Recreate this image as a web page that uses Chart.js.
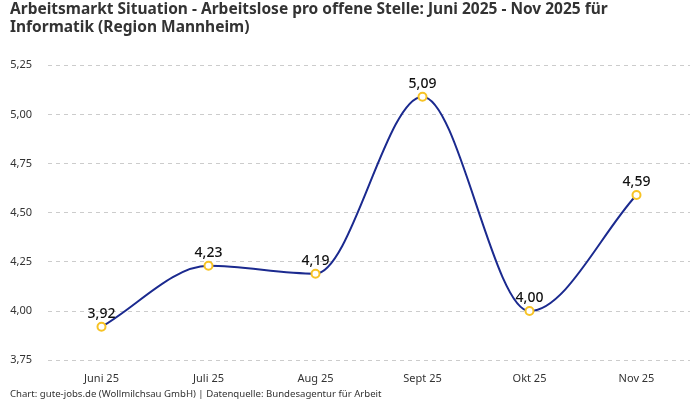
<!DOCTYPE html>
<html>
<head>
<meta charset="utf-8">
<script src="https://cdn.jsdelivr.net/npm/chart.js@4"></script>
<style>
  html, body { margin: 0; padding: 0; background: #fff; }
  #wrap { width: 700px; height: 400px; }
</style>
</head>
<body>
<div id="wrap"><canvas id="myChart"></canvas></div>
<script>
const months = ['Juni 25', 'Juli 25', 'Aug 25', 'Sept 25', 'Okt 25', 'Nov 25'];
const ratio = [3.92, 4.23, 4.19, 5.09, 4.00, 4.59];
const yTicks = [3.75, 4.00, 4.25, 4.50, 4.75, 5.00, 5.25];

const FONT = '"Noto Sans", sans-serif';
const fmt = v => v.toFixed(2).replace('.', ',');

// simple value labels above each point
const valueLabels = {
    id: 'valueLabels',
    afterDatasetsDraw(chart) {
        const ctx = chart.ctx;
        const meta = chart.getDatasetMeta(0);
        ctx.save();
        ctx.font = '500 14px ' + FONT;
        ctx.fillStyle = '#111';
        ctx.textAlign = 'center';
        ctx.textBaseline = 'bottom';
        meta.data.forEach((pt, i) => {
            ctx.fillText(fmt(ratio[i]), pt.x, pt.y - 6);
        });
        ctx.restore();
    }
};

const ctx = document.getElementById('myChart').getContext('2d');
new Chart(ctx, {
    type: 'line',
    data: {
        labels: months,
        datasets: [{
            label: 'Arbeitslose pro offene Stelle',
            data: ratio,
            borderColor: '#1b2a8f',
            borderWidth: 2,
            cubicInterpolationMode: 'monotone',
            fill: false,
            pointRadius: 4,
            pointBorderWidth: 2,
            pointBackgroundColor: '#fff',
            pointBorderColor: '#f7c325'
        }]
    },
    options: {
        responsive: true,
        maintainAspectRatio: false,
        animation: false,
        layout: { padding: { left: 10, right: 10, top: 0, bottom: 0 } },
        scales: {
            x: {
                offset: true,
                grid: { display: false },
                border: { display: false },
                ticks: { padding: 4, color: '#333', font: { family: FONT, size: 11, lineHeight: 1.2 } }
            },
            y: {
                min: 3.75,
                max: 5.25,
                afterBuildTicks: axis => { axis.ticks = yTicks.map(v => ({ value: v })); },
                afterFit: axis => { axis.width = 38; },
                grid: { color: '#cccccc', drawTicks: false },
                border: { display: false, dash: [4, 4] },
                ticks: {
                    padding: 16,
                    color: '#333',
                    font: { family: FONT, size: 11 },
                    callback: v => fmt(v)
                }
            }
        },
        plugins: {
            legend: { display: false },
            tooltip: { enabled: false },
            title: {
                display: true,
                align: 'start',
                text: ['Arbeitsmarkt Situation - Arbeitslose pro offene Stelle: Juni 2025 - Nov 2025 für', 'Informatik (Region Mannheim)'],
                color: '#333',
                font: { family: FONT, size: 15.5, weight: 'bold', lineHeight: 1.2 },
                padding: { top: 0, bottom: 28 }
            },
            subtitle: {
                display: true,
                position: 'bottom',
                align: 'start',
                text: 'Chart: gute-jobs.de (Wollmilchsau GmbH) | Datenquelle: Bundesagentur für Arbeit',
                color: '#333',
                font: { family: FONT, size: 9.6, lineHeight: 1.1 },
                padding: { top: 0, bottom: 0 }
            }
        }
    },
    plugins: [valueLabels]
});
</script>
</body>
</html>
